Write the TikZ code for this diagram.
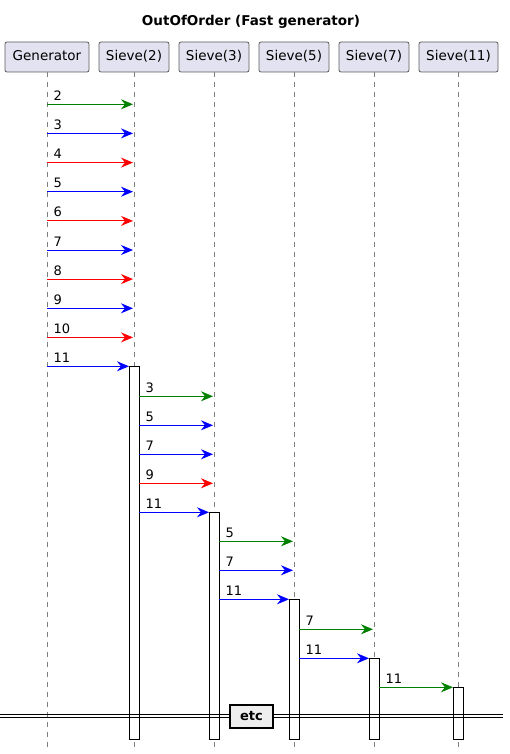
\documentclass[tikz,border=0pt]{standalone}
\usepackage{fontspec}
\setmainfont{DejaVu Sans}
\usetikzlibrary{arrows.meta}
\definecolor{pgreen}{HTML}{008000}
\definecolor{pblue}{HTML}{0000FF}
\definecolor{pred}{HTML}{FF0000}
\definecolor{partfill}{HTML}{E2E2F0}
\definecolor{partdraw}{HTML}{5A5A5A}
\definecolor{lifegray}{HTML}{7F7F7F}
\definecolor{etcfill}{HTML}{EEEEEE}
\tikzset{
  part/.style={draw=partdraw, fill=partfill, line width=0.8pt, rounded corners=2pt,
    minimum height=30pt, inner xsep=0pt, font=\fontsize{13.5}{16}\selectfont,
    text height=10.5pt, text depth=2.5pt},
  life/.style={draw=lifegray, line width=0.9pt, dash pattern=on 5pt off 5pt},
  actbar/.style={draw=black, fill=white, line width=1pt},
  msg/.style={line width=1pt, -{Stealth[length=12pt, width=10pt, inset=4pt]}},
  lbl/.style={anchor=base west, inner sep=0pt, font=\fontsize{13}{15}\selectfont},
  divline/.style={draw=black, line width=1pt},
  etcbox/.style={draw=black, fill=etcfill, line width=1.6pt, minimum width=43pt,
    minimum height=23pt, inner sep=0pt, font=\bfseries\fontsize{13}{15}\selectfont}
}
\begin{document}
\begin{tikzpicture}[x=1pt,y=-1pt]
\useasboundingbox (0,0) rectangle (509,754);
\node[font=\bfseries\fontsize{13.5}{16}\selectfont] (title) at (251,22) {OutOfOrder (Fast generator)};
% participants
\node[part, minimum width=84pt] (gen) at (47,57) {Generator};
\node[part, minimum width=70pt] (s2) at (134,57) {Sieve(2)};
\node[part, minimum width=70pt] (s3) at (214,57) {Sieve(3)};
\node[part, minimum width=70pt] (s5) at (294,57) {Sieve(5)};
\node[part, minimum width=70pt] (s7) at (374,57) {Sieve(7)};
\node[part, minimum width=79pt] (s11) at (458.5,57) {Sieve(11)};
% lifelines
\coordinate (genE) at (47,748);
\coordinate (s2E) at (134,748);
\coordinate (s3E) at (214,748);
\coordinate (s5E) at (294,748);
\coordinate (s7E) at (374,748);
\coordinate (s11E) at (458.5,748);
\draw[life] (gen.south) -- (genE);
\draw[life] (s2.south) -- (s2E);
\draw[life] (s3.south) -- (s3E);
\draw[life] (s5.south) -- (s5E);
\draw[life] (s7.south) -- (s7E);
\draw[life] (s11.south) -- (s11E);
% activation bars
\node[actbar, anchor=north west, minimum width=10pt, minimum height=373pt, inner sep=0pt] (a2) at (129,366.3) {};
\node[actbar, anchor=north west, minimum width=10pt, minimum height=227pt, inner sep=0pt] (a3) at (209,512.3) {};
\node[actbar, anchor=north west, minimum width=10pt, minimum height=140pt, inner sep=0pt] (a5) at (289,599.3) {};
\node[actbar, anchor=north west, minimum width=10pt, minimum height=81pt, inner sep=0pt] (a7) at (369,658.3) {};
\node[actbar, anchor=north west, minimum width=10pt, minimum height=52pt, inner sep=0pt] (a11) at (453,687.3) {};
% messages Generator -> Sieve(2)
\foreach \i/\y/\c in {1/104.3/pgreen, 2/133.4/pblue, 3/162.6/pred, 4/191.7/pblue, 5/220.9/pred,
                      6/250.0/pblue, 7/279.1/pred, 8/308.3/pblue, 9/337.4/pred} {
  \pgfmathtruncatemacro{\n}{\i+1}
  \coordinate (g\i) at (47,\y);
  \coordinate (t\i) at (133,\y);
  \draw[msg, draw=\c, color=\c] (g\i) -- (t\i);
  \node[lbl] (lg\i) at (53.5,\y-4) {\n};
}
\coordinate (g10) at (47,366.3);
\draw[msg, draw=pblue, color=pblue] (g10) -- (a2.north west);
\node[lbl] (lg10) at (53.5,362.3) {11};
% Sieve(2) -> Sieve(3)
\foreach \i/\y/\c/\t in {1/396.3/pgreen/3, 2/425.3/pblue/5, 3/454.3/pblue/7, 4/483.3/pred/9} {
  \coordinate (b\i) at (139,\y);
  \coordinate (bt\i) at (213,\y);
  \draw[msg, draw=\c, color=\c] (b\i) -- (bt\i);
  \node[lbl] (lb\i) at (145.5,\y-4) {\t};
}
\coordinate (b5) at (139,512.3);
\draw[msg, draw=pblue, color=pblue] (b5) -- (a3.north west);
\node[lbl] (lb5) at (145.5,508.3) {11};
% Sieve(3) -> Sieve(5)
\foreach \i/\y/\c/\t in {1/541.3/pgreen/5, 2/570.3/pblue/7} {
  \coordinate (c\i) at (219,\y);
  \coordinate (ct\i) at (293,\y);
  \draw[msg, draw=\c, color=\c] (c\i) -- (ct\i);
  \node[lbl] (lc\i) at (225.5,\y-4) {\t};
}
\coordinate (c3) at (219,599.3);
\draw[msg, draw=pblue, color=pblue] (c3) -- (a5.north west);
\node[lbl] (lc3) at (225.5,595.3) {11};
% Sieve(5) -> Sieve(7)
\coordinate (d1) at (299,629.3);
\coordinate (dt1) at (373,629.3);
\draw[msg, draw=pgreen, color=pgreen] (d1) -- (dt1);
\node[lbl] (ld1) at (305.5,625.3) {7};
\coordinate (d2) at (299,658.3);
\draw[msg, draw=pblue, color=pblue] (d2) -- (a7.north west);
\node[lbl] (ld2) at (305.5,654.3) {11};
% Sieve(7) -> Sieve(11)
\coordinate (e1) at (379,687.3);
\draw[msg, draw=pgreen, color=pgreen] (e1) -- (a11.north west);
\node[lbl] (le1) at (385.5,683.3) {11};
% divider
\coordinate (dvL1) at (0,714.8);
\coordinate (dvR1) at (503,714.8);
\coordinate (dvL2) at (0,717.8);
\coordinate (dvR2) at (503,717.8);
\draw[divline] (dvL1) -- (dvR1);
\draw[divline] (dvL2) -- (dvR2);
\node[etcbox] (etc) at (251.5,716.5) {etc};
\end{tikzpicture}
\end{document}
